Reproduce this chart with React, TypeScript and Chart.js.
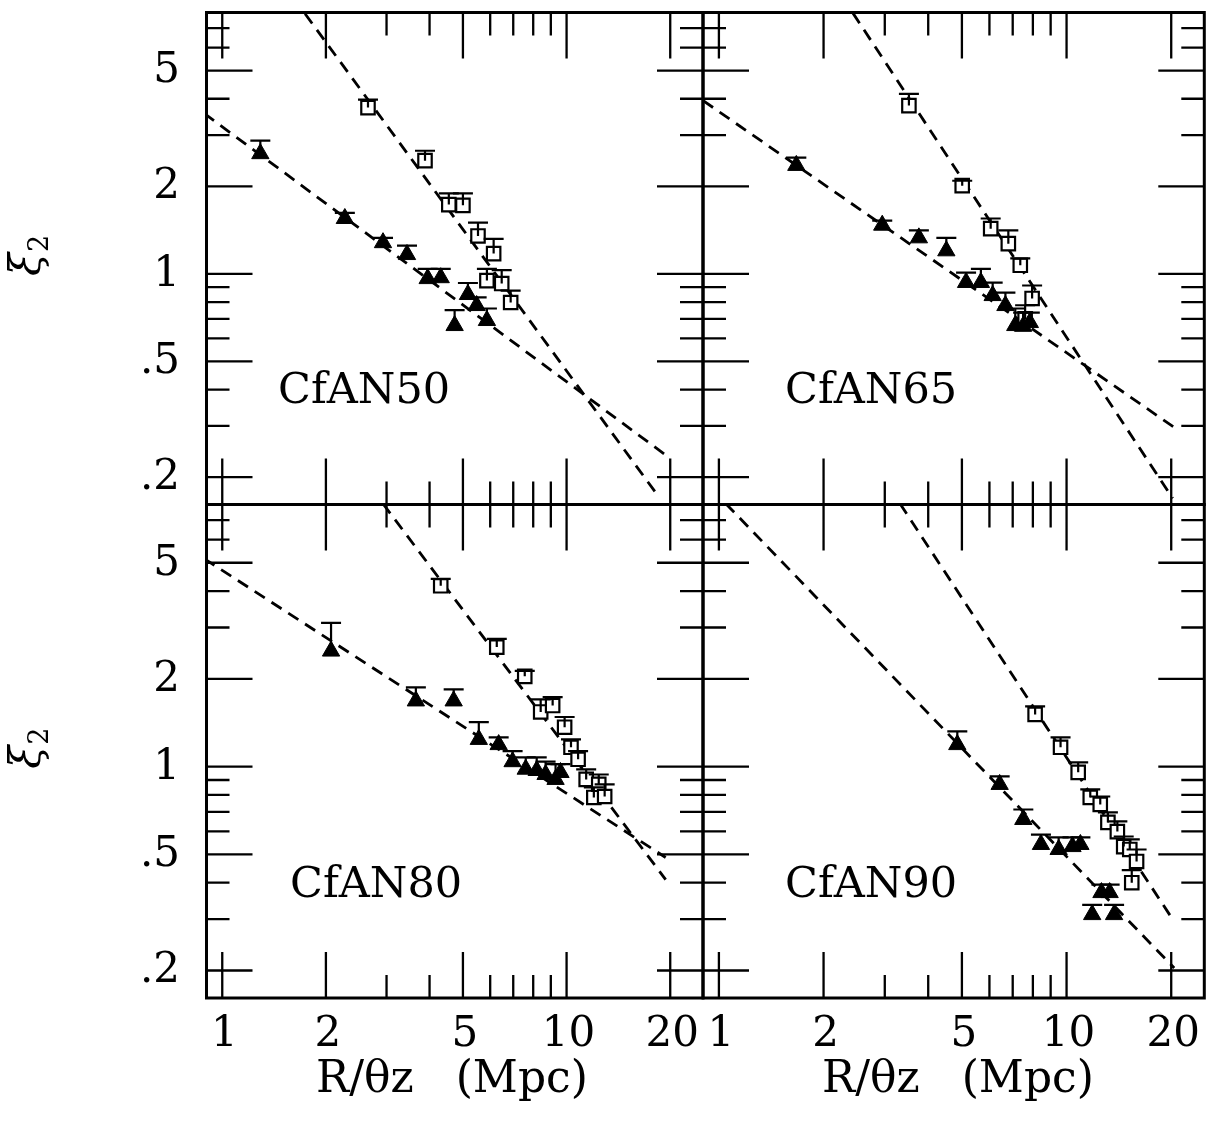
import React, { useEffect, useRef } from "react";
import { Chart, registerables } from "chart.js";

Chart.register(...registerables);

// ---------- axes ----------
const X_MIN = 0.9;
const X_MAX = 24.9;
const Y_MIN = 0.161;
const Y_MAX = 7.92;
const xTickValues = [1, 2, 3, 4, 5, 6, 7, 8, 9, 10, 20];
const xMajorTicks = [1, 2, 5, 10, 20];
const xTickLabels = ["1", "2", "5", "10", "20"];
const yTickValues = [0.2, 0.3, 0.4, 0.5, 0.6, 0.7, 0.8, 0.9, 1, 2, 3, 4, 5, 6, 7];
const yMajorTicks = [0.2, 0.5, 1, 2, 5];
const yTickLabels = [".2", ".5", "1", "2", "5"];
const xAxisTitle = "R/\u03b8z   (Mpc)";
const yAxisTitle = "\u03be";
const yAxisSub = "2";

// ---------- CfAN50 ----------
const n50TriX = [1.29, 2.27, 2.93, 3.44, 3.95, 4.31, 4.73, 5.17, 5.48, 5.87];
const n50TriY = [2.59, 1.55, 1.28, 1.165, 0.963, 0.97, 0.664, 0.849, 0.778, 0.691];
const n50TriErr = [2.87, 1.62, 1.33, 1.25, 1.04, 1.04, 0.75, 0.93, 0.83, 0.76];
const n50SqX = [2.65, 3.88, 4.55, 5.0, 5.53, 6.14, 5.87, 6.48, 6.88];
const n50SqY = [3.73, 2.45, 1.73, 1.72, 1.35, 1.174, 0.948, 0.926, 0.797];
const n50SqErr = [3.97, 2.65, 1.89, 1.89, 1.5, 1.32, 1.04, 1.03, 0.876];
const n50TriFitX = [0.887, 19.6];
const n50TriFitY = [3.56, 0.236];
const n50SqFitX = [1.74, 18.6];
const n50SqFitY = [7.84, 0.17];

// ---------- CfAN65 ----------
const n65TriX = [1.67, 2.95, 3.76, 4.51, 5.14, 5.67, 6.13, 6.67, 7.12, 7.5, 7.84];
const n65TriY = [2.36, 1.47, 1.33, 1.2, 0.934, 0.934, 0.842, 0.778, 0.664, 0.66, 0.68];
const n65TriErr = [2.51, 1.525, 1.41, 1.33, 1.01, 1.04, 0.933, 0.862, 0.76, 0.736, 0.736];
const n65SqX = [3.52, 5.01, 6.05, 6.8, 7.36, 7.96, 7.6];
const n65SqY = [3.79, 2.01, 1.43, 1.27, 1.07, 0.823, 0.7];
const n65SqErr = [4.16, 2.09, 1.55, 1.41, 1.13, 0.912, 0.78];
const n65TriFitX = [0.901, 20.6];
const n65TriFitY = [3.94, 0.294];
const n65SqFitX = [2.43, 20.2];
const n65SqFitY = [7.88, 0.169];

// ---------- CfAN80 ----------
const n80TriX = [2.07, 3.65, 4.7, 5.56, 6.35, 6.97, 7.61, 8.19, 8.69, 9.29, 9.6];
const n80TriY = [2.49, 1.68, 1.68, 1.24, 1.19, 1.04, 0.98, 0.97, 0.94, 0.904, 0.955];
const n80TriErr = [3.11, 1.87, 1.84, 1.42, 1.26, 1.13, 1.076, 1.076, 1.04, 1.02, 1.02];
const n80SqX = [4.31, 6.27, 7.56, 8.41, 9.11, 9.87, 10.3, 10.8, 11.4, 12.0, 12.4, 12.9];
const n80SqY = [4.17, 2.57, 2.04, 1.54, 1.62, 1.365, 1.165, 1.06, 0.904, 0.784, 0.87, 0.79];
const n80SqErr = [4.4, 2.74, 2.13, 1.7, 1.73, 1.48, 1.24, 1.13, 0.979, 0.849, 0.94, 0.87];
const n80TriFitX = [0.887, 19.4];
const n80TriFitY = [5.16, 0.488];
const n80SqFitX = [2.93, 19.4];
const n80SqFitY = [7.97, 0.41];

// ---------- CfAN90 ----------
const n90TriX = [4.85, 6.42, 7.51, 8.44, 9.49, 10.4, 10.96, 11.85, 12.6, 13.3, 13.7];
const n90TriY = [1.19, 0.869, 0.659, 0.541, 0.52, 0.532, 0.541, 0.311, 0.37, 0.37, 0.311];
const n90TriErr = [1.32, 0.926, 0.713, 0.585, 0.572, 0.572, 0.572, 0.336, 0.394, 0.394, 0.336];
const n90SqX = [8.12, 9.61, 10.8, 11.7, 12.5, 13.15, 14.0, 14.6, 15.2, 15.9, 15.4];
const n90SqY = [1.51, 1.165, 0.956, 0.784, 0.742, 0.644, 0.599, 0.532, 0.52, 0.473, 0.4];
const n90SqErr = [1.61, 1.26, 1.035, 0.836, 0.79, 0.697, 0.649, 0.576, 0.563, 0.52, 0.442];
const n90TriFitX = [1.047, 20.4];
const n90TriFitY = [7.97, 0.204];
const n90SqFitX = [3.32, 20.4];
const n90SqFitY = [7.97, 0.294];

const panelNames = ["CfAN50", "CfAN65", "CfAN80", "CfAN90"];

const FONT = "'DejaVu Serif', serif";
const W = 1216;
const H = 1124;

type PanelCfg = {
  name: string;
  box: { left: number; right: number; top: number; bottom: number };
  labelPos: [number, number];
  yLabels: boolean;
  xLabels: boolean;
  titleX: number;
  tri: [number[], number[], number[]];
  sq: [number[], number[], number[]];
  triFit: [number[], number[]];
  sqFit: [number[], number[]];
};

const zip = (xs: number[], ys: number[]) => xs.map((x, i) => ({ x, y: ys[i] }));

const PANELS: PanelCfg[] = [
  {
    name: panelNames[0],
    box: { left: 206.5, right: 703, top: 12.5, bottom: 504.5 },
    labelPos: [278, 403],
    yLabels: true,
    xLabels: false,
    titleX: 452,
    tri: [n50TriX, n50TriY, n50TriErr],
    sq: [n50SqX, n50SqY, n50SqErr],
    triFit: [n50TriFitX, n50TriFitY],
    sqFit: [n50SqFitX, n50SqFitY],
  },
  {
    name: panelNames[1],
    box: { left: 703, right: 1211.5, top: 12.5, bottom: 504.5 },
    labelPos: [785, 403],
    yLabels: false,
    xLabels: false,
    titleX: 958,
    tri: [n65TriX, n65TriY, n65TriErr],
    sq: [n65SqX, n65SqY, n65SqErr],
    triFit: [n65TriFitX, n65TriFitY],
    sqFit: [n65SqFitX, n65SqFitY],
  },
  {
    name: panelNames[2],
    box: { left: 206.5, right: 703, top: 504.5, bottom: 998 },
    labelPos: [290, 897],
    yLabels: true,
    xLabels: true,
    titleX: 452,
    tri: [n80TriX, n80TriY, n80TriErr],
    sq: [n80SqX, n80SqY, n80SqErr],
    triFit: [n80TriFitX, n80TriFitY],
    sqFit: [n80SqFitX, n80SqFitY],
  },
  {
    name: panelNames[3],
    box: { left: 703, right: 1211.5, top: 504.5, bottom: 998 },
    labelPos: [785, 897],
    yLabels: false,
    xLabels: true,
    titleX: 958,
    tri: [n90TriX, n90TriY, n90TriErr],
    sq: [n90SqX, n90SqY, n90SqErr],
    triFit: [n90TriFitX, n90TriFitY],
    sqFit: [n90SqFitX, n90SqFitY],
  },
];

function decorPlugin(cfg: PanelCfg) {
  return {
    id: "decor" + cfg.name,
    afterDatasetsDraw(chart: any) {
      const ctx = chart.ctx;
      const xs = chart.scales.x;
      const ys = chart.scales.y;
      ctx.save();
      ctx.strokeStyle = "#000";
      ctx.lineWidth = 2.2;
      chart.data.datasets.forEach((ds: any) => {
        if (!ds.errTop) return;
        ds.data.forEach((p: any, i: number) => {
          const px = xs.getPixelForValue(p.x);
          const py = ys.getPixelForValue(p.y);
          const pt = ys.getPixelForValue(ds.errTop[i]);
          ctx.beginPath();
          ctx.moveTo(px, py);
          ctx.lineTo(px, pt);
          ctx.moveTo(px - 10, pt);
          ctx.lineTo(px + 10, pt);
          ctx.stroke();
        });
      });
      ctx.restore();
    },
    afterDraw(chart: any) {
      const ctx = chart.ctx;
      const a = chart.chartArea;
      const xs = chart.scales.x;
      const ys = chart.scales.y;
      ctx.save();
      ctx.strokeStyle = "#000";
      ctx.fillStyle = "#000";
      ctx.lineWidth = 3;
      ctx.strokeRect(a.left, a.top, a.right - a.left, a.bottom - a.top);
      ctx.lineWidth = 2.3;
      ctx.beginPath();
      xTickValues.forEach((v) => {
        const px = xs.getPixelForValue(v);
        if (px <= a.left + 1 || px >= a.right - 1) return;
        const len = xMajorTicks.includes(v) ? 46 : 23;
        ctx.moveTo(px, a.bottom);
        ctx.lineTo(px, a.bottom - len);
        ctx.moveTo(px, a.top);
        ctx.lineTo(px, a.top + len);
      });
      yTickValues.forEach((v) => {
        const py = ys.getPixelForValue(v);
        if (py <= a.top + 1 || py >= a.bottom - 1) return;
        const len = yMajorTicks.includes(v) ? 46 : 23;
        ctx.moveTo(a.left, py);
        ctx.lineTo(a.left + len, py);
        ctx.moveTo(a.right, py);
        ctx.lineTo(a.right - len, py);
      });
      ctx.stroke();

      // panel label
      ctx.font = `43px ${FONT}`;
      ctx.textAlign = "left";
      ctx.textBaseline = "alphabetic";
      ctx.fillText(cfg.name, cfg.labelPos[0], cfg.labelPos[1]);

      if (cfg.yLabels) {
        ctx.font = `42px ${FONT}`;
        ctx.textAlign = "right";
        ctx.textBaseline = "middle";
        yMajorTicks.forEach((v, i) => {
          ctx.fillText(yTickLabels[i], 180, ys.getPixelForValue(v) + 1);
        });
        // rotated xi_2
        const cy = (a.top + a.bottom) / 2;
        ctx.save();
        ctx.translate(40, cy);
        ctx.rotate(-Math.PI / 2);
        ctx.textAlign = "center";
        ctx.textBaseline = "alphabetic";
        ctx.font = `italic 42px ${FONT}`;
        ctx.fillText(yAxisTitle, -6, 0);
        ctx.font = `27px ${FONT}`;
        ctx.fillText(yAxisSub, 15, 8);
        ctx.restore();
      }
      if (cfg.xLabels) {
        ctx.font = `42px ${FONT}`;
        ctx.textAlign = "center";
        ctx.textBaseline = "alphabetic";
        xMajorTicks.forEach((v, i) => {
          ctx.fillText(xTickLabels[i], xs.getPixelForValue(v) + 2, 1046);
        });
        ctx.font = `44px ${FONT}`;
        ctx.fillText(xAxisTitle, cfg.titleX, 1092);
      }
      ctx.restore();
    },
  };
}

function Panel({ cfg }: { cfg: PanelCfg }) {
  const ref = useRef<HTMLCanvasElement>(null);
  useEffect(() => {
    if (!ref.current) return;
    const b = cfg.box;
    const chart = new Chart(ref.current, {
      type: "scatter",
      data: {
        datasets: [
          {
            data: zip(cfg.tri[0], cfg.tri[1]),
            errTop: cfg.tri[2],
            pointStyle: "triangle",
            pointRadius: 10,
            backgroundColor: "#000",
            borderColor: "#000",
            borderWidth: 1,
            showLine: false,
          } as any,
          {
            data: zip(cfg.sq[0], cfg.sq[1]),
            errTop: cfg.sq[2],
            pointStyle: "rect",
            pointRadius: 9.5,
            backgroundColor: "#fff",
            borderColor: "#000",
            borderWidth: 2.2,
            showLine: false,
          } as any,
          {
            data: zip(cfg.triFit[0], cfg.triFit[1]),
            showLine: true,
            pointRadius: 0,
            borderColor: "#000",
            borderWidth: 2.8,
            borderDash: [12, 8],
            fill: false,
          },
          {
            data: zip(cfg.sqFit[0], cfg.sqFit[1]),
            showLine: true,
            pointRadius: 0,
            borderColor: "#000",
            borderWidth: 2.8,
            borderDash: [12, 8],
            fill: false,
          },
        ],
      },
      options: {
        animation: false,
        responsive: false,
        devicePixelRatio: 1,
        layout: {
          padding: { left: b.left, right: W - b.right, top: b.top, bottom: H - b.bottom },
        },
        plugins: { legend: { display: false }, tooltip: { enabled: false } },
        events: [],
        scales: {
          x: { type: "logarithmic", min: X_MIN, max: X_MAX, display: false },
          y: { type: "logarithmic", min: Y_MIN, max: Y_MAX, display: false },
        },
      },
      plugins: [decorPlugin(cfg)],
    });
    return () => chart.destroy();
  }, [cfg]);
  return (
    <canvas
      ref={ref}
      width={W}
      height={H}
      style={{ position: "absolute", left: 0, top: 0, width: W, height: H }}
    />
  );
}

export default function App() {
  return (
    <div style={{ position: "absolute", left: 0, top: 0, width: W, height: H, background: "#fff" }}>
      {PANELS.map((p) => (
        <Panel key={p.name} cfg={p} />
      ))}
    </div>
  );
}
